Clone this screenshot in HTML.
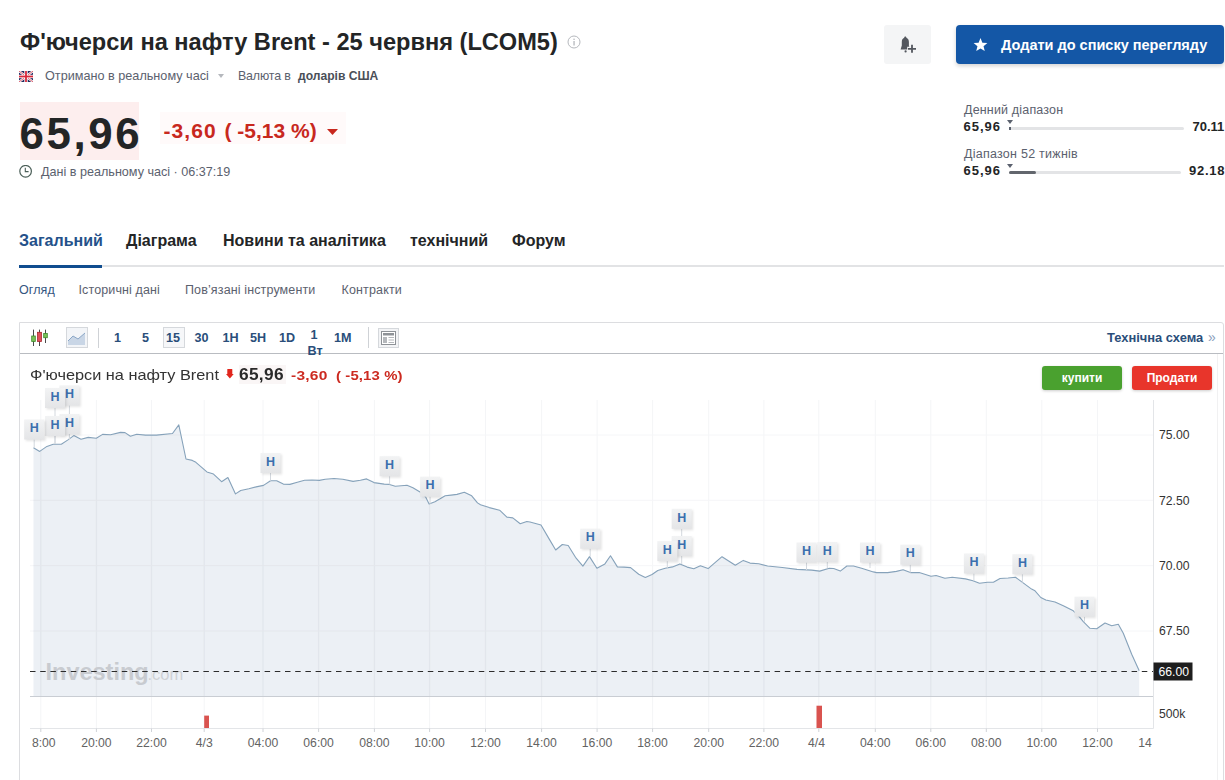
<!DOCTYPE html>
<html><head><meta charset="utf-8">
<style>
*{margin:0;padding:0;box-sizing:border-box}
html,body{width:1225px;height:780px;overflow:hidden;background:#fff;font-family:"Liberation Sans",sans-serif;color:#232526}
.a{position:absolute;white-space:nowrap}
.g{color:#5b616e}
.b{font-weight:bold}
.tb{top:330px;font-size:12.6px;line-height:16px;color:#2a4e7a}
</style></head><body>
<!-- header -->
<div class="a b" id="title" style="left:20px;top:28px;font-size:23.6px;line-height:28px;color:#232526">Ф'ючерси на нафту Brent - 25 червня (LCOM5)</div>
<svg class="a" style="left:567px;top:35px" width="14" height="14" viewBox="0 0 14 14"><circle cx="7" cy="7" r="6" fill="none" stroke="#b5b8bd" stroke-width="1"/><rect x="6.4" y="6" width="1.3" height="4.5" fill="#b5b8bd"/><rect x="6.4" y="3.6" width="1.3" height="1.4" fill="#b5b8bd"/></svg>

<!-- flag -->
<svg class="a" style="left:19px;top:71px" width="14" height="11" viewBox="0 0 14 11"><rect width="14" height="11" rx="1" fill="#232a5e"/><path d="M0 0L14 11M14 0L0 11" stroke="#fff" stroke-width="2.2"/><path d="M0 0L7 5.5M14 11L7 5.5M14 0L7 5.5M0 11L7 5.5" stroke="#d23446" stroke-width="0.8"/><rect x="5.3" y="0" width="3.4" height="11" fill="#fff"/><rect x="0" y="3.8" width="14" height="3.4" fill="#fff"/><rect x="6.1" y="0" width="1.8" height="11" fill="#d8283a"/><rect x="0" y="4.6" width="14" height="1.8" fill="#d8283a"/></svg>
<div class="a g" style="left:45px;top:68px;font-size:12.67px;line-height:16px">Отримано в реальному часі</div>
<svg class="a" style="left:217.5px;top:74.3px" width="6" height="4" viewBox="0 0 6 4"><path d="M0 0H6L3 4Z" fill="#b5b8bd"/></svg>
<div class="a g" style="left:238px;top:68px;font-size:12.4px;line-height:16px;letter-spacing:-0.15px">Валюта в</div>
<div class="a g b" style="left:298px;top:68px;font-size:12.1px;line-height:16px;color:#4a4f58">доларів США</div>

<!-- price -->
<div class="a" style="left:20px;top:102px;width:119px;height:58px;background:#fdeeee"></div>
<div class="a b" style="left:19.5px;top:109px;font-size:43.8px;line-height:50px;letter-spacing:2.6px;color:#232526">65,96</div>
<div class="a" style="left:160px;top:112px;width:186px;height:32px;background:#fffafa"></div>
<div class="a b" style="left:163.5px;top:118px;font-size:21px;line-height:26px;letter-spacing:1.1px;color:#c8281e">-3,60</div>
<div class="a b" style="left:224.5px;top:118px;font-size:21px;line-height:26px;letter-spacing:0px;color:#c8281e">( -5,13 %)</div>
<svg class="a" style="left:326.5px;top:128.5px" width="11" height="6" viewBox="0 0 11 6"><path d="M0 0H11L5.5 6Z" fill="#c8281e"/></svg>

<svg class="a" style="left:19px;top:165px" width="14" height="14" viewBox="0 0 14 14"><circle cx="6.6" cy="6.3" r="5.8" fill="none" stroke="#4b5f58" stroke-width="1.2"/><path d="M6.3 2.8V6.6H9.6" fill="none" stroke="#4b5f58" stroke-width="1.1"/></svg>
<div class="a g" style="left:41px;top:164px;font-size:12.6px;line-height:16px">Дані в реальному часі · 06:37:19</div>

<!-- right buttons -->
<div class="a" style="left:884px;top:25px;width:47px;height:39px;background:#f4f5f6;border-radius:3px"></div>
<svg class="a" style="left:899px;top:35px" width="19" height="19" viewBox="0 0 19 19"><path d="M6.3 1.6C5.6 1.6 5.2 2.2 5.2 2.8C3.6 3.5 2.8 5 2.8 7V10.5L1.6 14.6H11.2L9.9 10.5V7C9.9 5 9 3.5 7.4 2.8C7.4 2.2 7 1.6 6.3 1.6Z" fill="#53575e"/><circle cx="6.6" cy="16.4" r="1.1" fill="#53575e"/><path d="M13 8.6V19M8.2 13.8H18" stroke="#f4f5f6" stroke-width="4.2"/><path d="M13 9.8V17.8M9 13.8H17" stroke="#53575e" stroke-width="1.8"/></svg>
<div class="a" style="left:956px;top:25px;width:268px;height:39px;background:#1457a6;border-radius:4px;box-shadow:0 2px 4px rgba(0,0,0,.18)"></div>
<svg class="a" style="left:973px;top:38px" width="15" height="14" viewBox="0 0 24 23"><path d="M12 0l3.1 7.6 8.2.6-6.3 5.3 2 8-7-4.4-7 4.4 2-8L.7 8.2l8.2-.6z" fill="#fff"/></svg>
<div class="a b" style="left:1001px;top:36px;font-size:14.5px;line-height:18px;color:#fff">Додати до списку перегляду</div>

<!-- ranges -->
<div class="a g" style="left:964px;top:102px;font-size:12.5px;line-height:16px;letter-spacing:0.17px">Денний діапазон</div>
<div class="a b" style="left:963.5px;top:119px;font-size:13px;line-height:16px;letter-spacing:1px">65,96</div>
<div class="a" style="left:1009px;top:127px;width:175px;height:3px;background:#e3e4e6;border-radius:2px"></div>
<svg class="a" style="left:1006.5px;top:120px" width="6" height="4" viewBox="0 0 6 4"><path d="M0 0H6L3 4Z" fill="#5b616e"/></svg><div class="a" style="left:1008.5px;top:126.5px;width:2px;height:3px;background:#5b616e"></div>
<div class="a b" style="left:1192.5px;top:119px;font-size:13px;line-height:16px;letter-spacing:0px">70.11</div>

<div class="a g" style="left:964px;top:146px;font-size:12.5px;line-height:16px;letter-spacing:0.25px">Діапазон 52 тижнів</div>
<div class="a b" style="left:963.5px;top:163px;font-size:13px;line-height:16px;letter-spacing:1px">65,96</div>
<div class="a" style="left:1009px;top:171px;width:172px;height:3px;background:#e3e4e6;border-radius:2px"></div>
<div class="a" style="left:1009px;top:171px;width:27px;height:3px;background:#62666d;border-radius:2px"></div>
<svg class="a" style="left:1006.5px;top:164px" width="6" height="4" viewBox="0 0 6 4"><path d="M0 0H6L3 4Z" fill="#5b616e"/></svg>
<div class="a b" style="left:1189px;top:163px;font-size:13px;line-height:16px;letter-spacing:0.75px">92.18</div>

<!-- tabs -->
<div class="a b" style="left:19px;top:231px;font-size:16px;line-height:20px;color:#24518a">Загальний</div>
<div class="a b" style="left:126px;top:231px;font-size:16px;line-height:20px">Діаграма</div>
<div class="a b" style="left:223px;top:231px;font-size:16px;line-height:20px">Новини та аналітика</div>
<div class="a b" style="left:410px;top:231px;font-size:16px;line-height:20px">технічний</div>
<div class="a b" style="left:512px;top:231px;font-size:16px;line-height:20px">Форум</div>
<div class="a" style="left:19px;top:265px;width:1205px;height:2px;background:#e2e3e5"></div>
<div class="a" style="left:19px;top:265px;width:83px;height:3px;background:#104d8f"></div>

<div class="a" style="left:19px;top:282px;font-size:12.5px;line-height:16px;letter-spacing:0.1px;color:#34557f">Огляд</div>
<div class="a g" style="left:78.5px;top:282px;font-size:12.5px;line-height:16px;letter-spacing:0.12px">Історичні дані</div>
<div class="a g" style="left:185px;top:282px;font-size:12.5px;line-height:16px;letter-spacing:0.13px">Пов’язані інструменти</div>
<div class="a g" style="left:341.5px;top:282px;font-size:12.5px;line-height:16px;letter-spacing:0.15px">Контракти</div>

<!-- CHART -->
<!--CHART_START-->
<div class="a" style="left:19px;top:322px;width:1205px;height:470px;border:1px solid #dcdde0;border-radius:0 3px 0 0"></div><div class="a" style="left:1217px;top:354px;width:1px;height:430px;background:#f1f1f2"></div>
<div class="a" style="left:20px;top:353px;width:1203px;height:1px;background:#b9bcc1"></div>
<!-- toolbar -->
<svg class="a" style="left:31px;top:329px" width="17" height="18" viewBox="0 0 17 18"><path d="M2.5 0.6V17M8.5 0.6V17M14.5 0.6V14" stroke="#4a4a4a" stroke-width="1"/><rect x="0.7" y="7" width="3.6" height="5.5" fill="#7cc35a" stroke="#3d8c2a" stroke-width="0.8"/><rect x="6.5" y="3.3" width="4" height="9.2" fill="#e0505a" stroke="#a82a2e" stroke-width="0.8"/><rect x="12.7" y="4.5" width="3.6" height="4.2" fill="#7cc35a" stroke="#3d8c2a" stroke-width="0.8"/></svg>
<div class="a" style="left:66px;top:327px;width:22px;height:21px;border:1px solid #d5d8dc;background:#f3f5f8"></div>
<svg class="a" style="left:68px;top:331px" width="18" height="14" viewBox="0 0 18 14"><path d="M0 10L5 5L10 8L17 2V14H0Z" fill="#c9d6e6"/><path d="M0 10L5 5L10 8L17 2" fill="none" stroke="#8aa6c6" stroke-width="1"/></svg>
<div class="a" style="left:98px;top:328px;width:1px;height:20px;background:#cfd2d6"></div>
<div class="a" style="left:163px;top:327px;width:22px;height:21px;border:1px solid #d5d8dc;background:#f6f7f9"></div>
<div class="a b tb" style="left:114px">1</div>
<div class="a b tb" style="left:142px">5</div>
<div class="a b tb" style="left:166px">15</div>
<div class="a b tb" style="left:194.5px">30</div>
<div class="a b tb" style="left:222.5px">1H</div>
<div class="a b tb" style="left:250px">5H</div>
<div class="a b tb" style="left:279px">1D</div>
<div class="a b tb" style="left:310.5px;top:327px">1</div>
<div class="a b tb" style="left:307.5px;top:343px">Вт</div>
<div class="a b tb" style="left:334px">1M</div>
<div class="a" style="left:367.5px;top:327px;width:1px;height:21px;background:#cfd2d6"></div>
<div class="a" style="left:378px;top:328px;width:21px;height:20px;border:1px solid #d5d8dc;background:#f3f4f6"></div>
<svg class="a" style="left:381px;top:331px" width="15" height="14" viewBox="0 0 15 14"><rect x="0.5" y="0.5" width="14" height="13" fill="#fff" stroke="#8e9297"/><rect x="2" y="2" width="11" height="2.5" fill="#8e9297"/><rect x="2" y="6" width="4" height="6" fill="#b5b8bc"/><path d="M7.5 6.5H13M7.5 9H13M7.5 11.5H13" stroke="#b5b8bc" stroke-width="1"/></svg>
<div class="a b" style="left:1107px;top:330px;font-size:12.9px;line-height:16px;color:#2a4e7a">Технічна схема</div>
<div class="a" style="left:1208px;top:329px;font-size:14px;line-height:16px;color:#8aa0bd">»</div>
<!-- chart header -->
<div class="a" style="left:29.5px;top:366px;font-size:14.5px;line-height:18px;transform:scaleX(1.125);transform-origin:0 0;color:#333">Ф'ючерси на нафту Brent</div>
<svg class="a" style="left:225.5px;top:369px" width="8" height="10" viewBox="0 0 8 10"><path d="M1.3 0.3Q1.3 0 1.6 0H6Q6.3 0 6.3 0.3V5H7.7L3.9 9.6L0 5H1.3Z" fill="#e1261d"/></svg>
<div class="a" style="left:238.5px;top:365px;width:47px;height:19px;background:#faf6f6"></div><div class="a b" style="left:238.7px;top:365px;font-size:16px;line-height:20px;letter-spacing:0.3px;transform:scaleX(1.08);transform-origin:0 0;color:#2a2a2a">65,96</div>
<div class="a b" style="left:290.5px;top:366.5px;font-size:13.5px;line-height:18px;letter-spacing:0.2px;transform:scaleX(1.15);transform-origin:0 0;color:#cc2a20">-3,60</div>
<div class="a b" style="left:336px;top:366.5px;font-size:13.5px;line-height:18px;letter-spacing:0.1px;transform:scaleX(1.105);transform-origin:0 0;color:#cc2a20">( -5,13 %)</div>
<div class="a" style="left:1042px;top:366px;width:80px;height:24px;background:#4aa12f;border-radius:3px;box-shadow:0 1px 3px rgba(0,0,0,.2)"></div>
<div class="a b" style="left:1042px;top:371px;width:80px;text-align:center;font-size:12px;line-height:14px;color:#fff">купити</div>
<div class="a" style="left:1132px;top:366px;width:80px;height:24px;background:#e8352b;border-radius:3px;box-shadow:0 1px 3px rgba(0,0,0,.2)"></div>
<div class="a b" style="left:1132px;top:371px;width:80px;text-align:center;font-size:12px;line-height:14px;color:#fff">Продати</div>
<svg class="a" style="left:20px;top:353px" width="1205" height="427" viewBox="0 0 1205 427" font-family="Liberation Sans, sans-serif">
<defs><filter id="blur" x="-30%" y="-30%" width="160%" height="160%"><feGaussianBlur stdDeviation="1.3"/></filter><linearGradient id="mg" x1="0" y1="0" x2="0" y2="1"><stop offset="0" stop-color="#f2f3f4"/><stop offset="1" stop-color="#e4e5e7"/></linearGradient></defs>
<line x1="20.799999999999997" y1="47" x2="20.799999999999997" y2="375.5" stroke="#f4f5f7" stroke-width="1"/>
<line x1="76.4" y1="47" x2="76.4" y2="375.5" stroke="#f4f5f7" stroke-width="1"/>
<line x1="131.5" y1="47" x2="131.5" y2="375.5" stroke="#f4f5f7" stroke-width="1"/>
<line x1="184.2" y1="47" x2="184.2" y2="375.5" stroke="#f4f5f7" stroke-width="1"/>
<line x1="243" y1="47" x2="243" y2="375.5" stroke="#f4f5f7" stroke-width="1"/>
<line x1="298.6" y1="47" x2="298.6" y2="375.5" stroke="#f4f5f7" stroke-width="1"/>
<line x1="354.4" y1="47" x2="354.4" y2="375.5" stroke="#f4f5f7" stroke-width="1"/>
<line x1="409.6" y1="47" x2="409.6" y2="375.5" stroke="#f4f5f7" stroke-width="1"/>
<line x1="465.5" y1="47" x2="465.5" y2="375.5" stroke="#f4f5f7" stroke-width="1"/>
<line x1="521.6" y1="47" x2="521.6" y2="375.5" stroke="#f4f5f7" stroke-width="1"/>
<line x1="577.1" y1="47" x2="577.1" y2="375.5" stroke="#f4f5f7" stroke-width="1"/>
<line x1="632.6" y1="47" x2="632.6" y2="375.5" stroke="#f4f5f7" stroke-width="1"/>
<line x1="688.7" y1="47" x2="688.7" y2="375.5" stroke="#f4f5f7" stroke-width="1"/>
<line x1="743.9" y1="47" x2="743.9" y2="375.5" stroke="#f4f5f7" stroke-width="1"/>
<line x1="798.8" y1="47" x2="798.8" y2="375.5" stroke="#f4f5f7" stroke-width="1"/>
<line x1="855.3" y1="47" x2="855.3" y2="375.5" stroke="#f4f5f7" stroke-width="1"/>
<line x1="910.8" y1="47" x2="910.8" y2="375.5" stroke="#f4f5f7" stroke-width="1"/>
<line x1="966.3" y1="47" x2="966.3" y2="375.5" stroke="#f4f5f7" stroke-width="1"/>
<line x1="1021.8" y1="47" x2="1021.8" y2="375.5" stroke="#f4f5f7" stroke-width="1"/>
<line x1="1077.5" y1="47" x2="1077.5" y2="375.5" stroke="#f4f5f7" stroke-width="1"/>
<line x1="10" y1="82" x2="1133.5" y2="82" stroke="#f5f6f8" stroke-width="1"/>
<line x1="10" y1="147.3" x2="1133.5" y2="147.3" stroke="#f5f6f8" stroke-width="1"/>
<line x1="10" y1="212.70000000000005" x2="1133.5" y2="212.70000000000005" stroke="#f5f6f8" stroke-width="1"/>
<line x1="10" y1="278" x2="1133.5" y2="278" stroke="#f5f6f8" stroke-width="1"/>
<path d="M13.5,343.0 L13.5,94.8 L19.7,98.4 L26.9,93.4 L33.2,91.2 L41.3,91.2 L47.6,87.1 L53.8,82.6 L61.0,86.2 L68.2,84.4 L76.3,85.3 L82.6,81.4 L90.6,81.7 L100.5,79.4 L105.0,79.6 L110.4,83.2 L116.7,81.2 L125.6,82.1 L136.4,82.1 L152.5,80.5 L158.8,71.9 L166.0,106.0 L172.3,107.4 L175.9,109.3 L186.9,118.9 L193.5,121.1 L201.6,128.7 L207.9,124.5 L215.5,140.9 L220.7,137.5 L228.8,135.8 L236.1,133.9 L243.5,132.4 L250.5,127.7 L256.7,127.7 L263.3,131.1 L269.9,131.4 L277.3,129.2 L284.6,127.3 L292.0,127.0 L299.3,127.4 L305.2,126.2 L314.0,125.5 L322.8,126.2 L333.1,128.4 L340.4,127.3 L346.6,125.9 L354.0,129.6 L364.2,131.1 L369.4,131.4 L375.3,133.3 L387.0,132.3 L392.9,134.8 L401.7,139.9 L405.4,143.6 L409.1,150.9 L414.9,148.7 L420.1,145.8 L425.2,142.8 L431.1,142.1 L437.0,141.4 L444.3,139.2 L451.7,142.8 L457.5,149.9 L460.5,151.7 L469.3,154.6 L479.6,157.2 L486.9,164.1 L492.8,164.9 L500.2,170.8 L506.8,168.5 L510.0,169.0 L521.0,172.0 L529.1,185.9 L535.7,197.0 L542.3,191.5 L548.2,192.5 L555.5,204.3 L562.9,213.1 L569.5,203.6 L576.9,215.3 L584.9,210.9 L590.5,202.8 L597.4,213.9 L604.0,214.1 L610.6,214.6 L618.7,221.2 L625.3,224.4 L632.0,221.5 L637.8,217.5 L645.2,215.3 L652.5,213.9 L659.9,210.9 L667.2,214.1 L673.8,215.8 L680.4,212.8 L688.1,215.6 L702.0,203.7 L715.3,212.3 L723.3,207.4 L730.0,210.1 L738.8,210.8 L747.6,213.0 L762.3,214.5 L777.0,216.4 L791.7,217.1 L799.7,218.1 L809.3,215.2 L813.7,215.5 L820.3,218.1 L826.9,213.0 L833.5,213.0 L841.6,215.2 L853.4,218.9 L856.6,219.6 L867.6,219.6 L876.4,218.4 L883.1,216.7 L890.4,219.6 L899.2,219.6 L911.0,223.3 L916.1,222.5 L924.9,225.2 L932.3,224.3 L945.5,225.9 L952.9,227.7 L959.5,230.2 L967.5,229.2 L973.4,229.2 L980.0,225.5 L988.1,225.0 L995.5,224.3 L1002.8,229.6 L1011.6,236.1 L1015.0,237.8 L1020.8,244.5 L1025.8,247.0 L1035.0,249.0 L1043.3,252.8 L1053.3,257.8 L1059.2,263.7 L1063.3,268.7 L1070.0,275.3 L1076.7,275.7 L1085.0,270.0 L1091.7,272.8 L1098.3,271.2 L1103.3,280.3 L1111.7,301.2 L1119.2,317.8 L1119.2,343.0 Z" fill="#ecf0f5"/>
<clipPath id="ac"><path d="M13.5,343.0 L13.5,94.8 L19.7,98.4 L26.9,93.4 L33.2,91.2 L41.3,91.2 L47.6,87.1 L53.8,82.6 L61.0,86.2 L68.2,84.4 L76.3,85.3 L82.6,81.4 L90.6,81.7 L100.5,79.4 L105.0,79.6 L110.4,83.2 L116.7,81.2 L125.6,82.1 L136.4,82.1 L152.5,80.5 L158.8,71.9 L166.0,106.0 L172.3,107.4 L175.9,109.3 L186.9,118.9 L193.5,121.1 L201.6,128.7 L207.9,124.5 L215.5,140.9 L220.7,137.5 L228.8,135.8 L236.1,133.9 L243.5,132.4 L250.5,127.7 L256.7,127.7 L263.3,131.1 L269.9,131.4 L277.3,129.2 L284.6,127.3 L292.0,127.0 L299.3,127.4 L305.2,126.2 L314.0,125.5 L322.8,126.2 L333.1,128.4 L340.4,127.3 L346.6,125.9 L354.0,129.6 L364.2,131.1 L369.4,131.4 L375.3,133.3 L387.0,132.3 L392.9,134.8 L401.7,139.9 L405.4,143.6 L409.1,150.9 L414.9,148.7 L420.1,145.8 L425.2,142.8 L431.1,142.1 L437.0,141.4 L444.3,139.2 L451.7,142.8 L457.5,149.9 L460.5,151.7 L469.3,154.6 L479.6,157.2 L486.9,164.1 L492.8,164.9 L500.2,170.8 L506.8,168.5 L510.0,169.0 L521.0,172.0 L529.1,185.9 L535.7,197.0 L542.3,191.5 L548.2,192.5 L555.5,204.3 L562.9,213.1 L569.5,203.6 L576.9,215.3 L584.9,210.9 L590.5,202.8 L597.4,213.9 L604.0,214.1 L610.6,214.6 L618.7,221.2 L625.3,224.4 L632.0,221.5 L637.8,217.5 L645.2,215.3 L652.5,213.9 L659.9,210.9 L667.2,214.1 L673.8,215.8 L680.4,212.8 L688.1,215.6 L702.0,203.7 L715.3,212.3 L723.3,207.4 L730.0,210.1 L738.8,210.8 L747.6,213.0 L762.3,214.5 L777.0,216.4 L791.7,217.1 L799.7,218.1 L809.3,215.2 L813.7,215.5 L820.3,218.1 L826.9,213.0 L833.5,213.0 L841.6,215.2 L853.4,218.9 L856.6,219.6 L867.6,219.6 L876.4,218.4 L883.1,216.7 L890.4,219.6 L899.2,219.6 L911.0,223.3 L916.1,222.5 L924.9,225.2 L932.3,224.3 L945.5,225.9 L952.9,227.7 L959.5,230.2 L967.5,229.2 L973.4,229.2 L980.0,225.5 L988.1,225.0 L995.5,224.3 L1002.8,229.6 L1011.6,236.1 L1015.0,237.8 L1020.8,244.5 L1025.8,247.0 L1035.0,249.0 L1043.3,252.8 L1053.3,257.8 L1059.2,263.7 L1063.3,268.7 L1070.0,275.3 L1076.7,275.7 L1085.0,270.0 L1091.7,272.8 L1098.3,271.2 L1103.3,280.3 L1111.7,301.2 L1119.2,317.8 L1119.2,343.0 Z"/></clipPath><g clip-path="url(#ac)">
<line x1="20.799999999999997" y1="47" x2="20.799999999999997" y2="343" stroke="#e2e6ec" stroke-width="1.3"/>
<line x1="76.4" y1="47" x2="76.4" y2="343" stroke="#e2e6ec" stroke-width="1.3"/>
<line x1="131.5" y1="47" x2="131.5" y2="343" stroke="#e2e6ec" stroke-width="1.3"/>
<line x1="184.2" y1="47" x2="184.2" y2="343" stroke="#e2e6ec" stroke-width="1.3"/>
<line x1="243" y1="47" x2="243" y2="343" stroke="#e2e6ec" stroke-width="1.3"/>
<line x1="298.6" y1="47" x2="298.6" y2="343" stroke="#e2e6ec" stroke-width="1.3"/>
<line x1="354.4" y1="47" x2="354.4" y2="343" stroke="#e2e6ec" stroke-width="1.3"/>
<line x1="409.6" y1="47" x2="409.6" y2="343" stroke="#e2e6ec" stroke-width="1.3"/>
<line x1="465.5" y1="47" x2="465.5" y2="343" stroke="#e2e6ec" stroke-width="1.3"/>
<line x1="521.6" y1="47" x2="521.6" y2="343" stroke="#e2e6ec" stroke-width="1.3"/>
<line x1="577.1" y1="47" x2="577.1" y2="343" stroke="#e2e6ec" stroke-width="1.3"/>
<line x1="632.6" y1="47" x2="632.6" y2="343" stroke="#e2e6ec" stroke-width="1.3"/>
<line x1="688.7" y1="47" x2="688.7" y2="343" stroke="#e2e6ec" stroke-width="1.3"/>
<line x1="743.9" y1="47" x2="743.9" y2="343" stroke="#e2e6ec" stroke-width="1.3"/>
<line x1="798.8" y1="47" x2="798.8" y2="343" stroke="#e2e6ec" stroke-width="1.3"/>
<line x1="855.3" y1="47" x2="855.3" y2="343" stroke="#e2e6ec" stroke-width="1.3"/>
<line x1="910.8" y1="47" x2="910.8" y2="343" stroke="#e2e6ec" stroke-width="1.3"/>
<line x1="966.3" y1="47" x2="966.3" y2="343" stroke="#e2e6ec" stroke-width="1.3"/>
<line x1="1021.8" y1="47" x2="1021.8" y2="343" stroke="#e2e6ec" stroke-width="1.3"/>
<line x1="1077.5" y1="47" x2="1077.5" y2="343" stroke="#e2e6ec" stroke-width="1.3"/>
<line x1="10" y1="82" x2="1133.5" y2="82" stroke="#e4e7ec" stroke-width="1"/>
<line x1="10" y1="147.3" x2="1133.5" y2="147.3" stroke="#e4e7ec" stroke-width="1"/>
<line x1="10" y1="212.70000000000005" x2="1133.5" y2="212.70000000000005" stroke="#e4e7ec" stroke-width="1"/>
<line x1="10" y1="278" x2="1133.5" y2="278" stroke="#e4e7ec" stroke-width="1"/>
</g>
<path d="M13.5,94.8 L19.7,98.4 L26.9,93.4 L33.2,91.2 L41.3,91.2 L47.6,87.1 L53.8,82.6 L61.0,86.2 L68.2,84.4 L76.3,85.3 L82.6,81.4 L90.6,81.7 L100.5,79.4 L105.0,79.6 L110.4,83.2 L116.7,81.2 L125.6,82.1 L136.4,82.1 L152.5,80.5 L158.8,71.9 L166.0,106.0 L172.3,107.4 L175.9,109.3 L186.9,118.9 L193.5,121.1 L201.6,128.7 L207.9,124.5 L215.5,140.9 L220.7,137.5 L228.8,135.8 L236.1,133.9 L243.5,132.4 L250.5,127.7 L256.7,127.7 L263.3,131.1 L269.9,131.4 L277.3,129.2 L284.6,127.3 L292.0,127.0 L299.3,127.4 L305.2,126.2 L314.0,125.5 L322.8,126.2 L333.1,128.4 L340.4,127.3 L346.6,125.9 L354.0,129.6 L364.2,131.1 L369.4,131.4 L375.3,133.3 L387.0,132.3 L392.9,134.8 L401.7,139.9 L405.4,143.6 L409.1,150.9 L414.9,148.7 L420.1,145.8 L425.2,142.8 L431.1,142.1 L437.0,141.4 L444.3,139.2 L451.7,142.8 L457.5,149.9 L460.5,151.7 L469.3,154.6 L479.6,157.2 L486.9,164.1 L492.8,164.9 L500.2,170.8 L506.8,168.5 L510.0,169.0 L521.0,172.0 L529.1,185.9 L535.7,197.0 L542.3,191.5 L548.2,192.5 L555.5,204.3 L562.9,213.1 L569.5,203.6 L576.9,215.3 L584.9,210.9 L590.5,202.8 L597.4,213.9 L604.0,214.1 L610.6,214.6 L618.7,221.2 L625.3,224.4 L632.0,221.5 L637.8,217.5 L645.2,215.3 L652.5,213.9 L659.9,210.9 L667.2,214.1 L673.8,215.8 L680.4,212.8 L688.1,215.6 L702.0,203.7 L715.3,212.3 L723.3,207.4 L730.0,210.1 L738.8,210.8 L747.6,213.0 L762.3,214.5 L777.0,216.4 L791.7,217.1 L799.7,218.1 L809.3,215.2 L813.7,215.5 L820.3,218.1 L826.9,213.0 L833.5,213.0 L841.6,215.2 L853.4,218.9 L856.6,219.6 L867.6,219.6 L876.4,218.4 L883.1,216.7 L890.4,219.6 L899.2,219.6 L911.0,223.3 L916.1,222.5 L924.9,225.2 L932.3,224.3 L945.5,225.9 L952.9,227.7 L959.5,230.2 L967.5,229.2 L973.4,229.2 L980.0,225.5 L988.1,225.0 L995.5,224.3 L1002.8,229.6 L1011.6,236.1 L1015.0,237.8 L1020.8,244.5 L1025.8,247.0 L1035.0,249.0 L1043.3,252.8 L1053.3,257.8 L1059.2,263.7 L1063.3,268.7 L1070.0,275.3 L1076.7,275.7 L1085.0,270.0 L1091.7,272.8 L1098.3,271.2 L1103.3,280.3 L1111.7,301.2 L1119.2,317.8" fill="none" stroke="#86a2ba" stroke-width="1.1" stroke-linejoin="round"/>
<text x="25.5" y="326.5" font-size="23.5" font-weight="bold" fill="#c8cbd0" letter-spacing="0">Investing</text>
<text x="127.5" y="326.5" font-size="16.5" fill="#cfd2d6">.com</text>
<line x1="10" y1="318.5" x2="1133.5" y2="318.5" stroke="#2c2c2c" stroke-width="1" stroke-dasharray="5.5,4.7"/>
<line x1="10" y1="343.5" x2="1133.5" y2="343.5" stroke="#c9cdd3" stroke-width="1"/>
<line x1="10" y1="375.5" x2="1133.5" y2="375.5" stroke="#e3e5e8" stroke-width="1"/>
<line x1="1133.5" y1="47" x2="1133.5" y2="375.5" stroke="#e3e5e8" stroke-width="1"/>
<rect x="184.2" y="362.6" width="4.8" height="12.399999999999977" fill="#d9534f"/>
<rect x="796.5" y="352.70000000000005" width="5.5" height="22.299999999999955" fill="#d9534f"/>
<line x1="20.799999999999997" y1="375.5" x2="20.799999999999997" y2="379" stroke="#d0d3d8" stroke-width="1"/>
<line x1="76.4" y1="375.5" x2="76.4" y2="379" stroke="#d0d3d8" stroke-width="1"/>
<line x1="131.5" y1="375.5" x2="131.5" y2="379" stroke="#d0d3d8" stroke-width="1"/>
<line x1="184.2" y1="375.5" x2="184.2" y2="379" stroke="#d0d3d8" stroke-width="1"/>
<line x1="243" y1="375.5" x2="243" y2="379" stroke="#d0d3d8" stroke-width="1"/>
<line x1="298.6" y1="375.5" x2="298.6" y2="379" stroke="#d0d3d8" stroke-width="1"/>
<line x1="354.4" y1="375.5" x2="354.4" y2="379" stroke="#d0d3d8" stroke-width="1"/>
<line x1="409.6" y1="375.5" x2="409.6" y2="379" stroke="#d0d3d8" stroke-width="1"/>
<line x1="465.5" y1="375.5" x2="465.5" y2="379" stroke="#d0d3d8" stroke-width="1"/>
<line x1="521.6" y1="375.5" x2="521.6" y2="379" stroke="#d0d3d8" stroke-width="1"/>
<line x1="577.1" y1="375.5" x2="577.1" y2="379" stroke="#d0d3d8" stroke-width="1"/>
<line x1="632.6" y1="375.5" x2="632.6" y2="379" stroke="#d0d3d8" stroke-width="1"/>
<line x1="688.7" y1="375.5" x2="688.7" y2="379" stroke="#d0d3d8" stroke-width="1"/>
<line x1="743.9" y1="375.5" x2="743.9" y2="379" stroke="#d0d3d8" stroke-width="1"/>
<line x1="798.8" y1="375.5" x2="798.8" y2="379" stroke="#d0d3d8" stroke-width="1"/>
<line x1="855.3" y1="375.5" x2="855.3" y2="379" stroke="#d0d3d8" stroke-width="1"/>
<line x1="910.8" y1="375.5" x2="910.8" y2="379" stroke="#d0d3d8" stroke-width="1"/>
<line x1="966.3" y1="375.5" x2="966.3" y2="379" stroke="#d0d3d8" stroke-width="1"/>
<line x1="1021.8" y1="375.5" x2="1021.8" y2="379" stroke="#d0d3d8" stroke-width="1"/>
<line x1="1077.5" y1="375.5" x2="1077.5" y2="379" stroke="#d0d3d8" stroke-width="1"/>
<text x="23.799999999999997" y="393.5" font-size="12.2" fill="#636363" text-anchor="middle">8:00</text>
<text x="76.4" y="393.5" font-size="12.2" fill="#636363" text-anchor="middle">20:00</text>
<text x="131.5" y="393.5" font-size="12.2" fill="#636363" text-anchor="middle">22:00</text>
<text x="184.2" y="393.5" font-size="12.2" fill="#636363" text-anchor="middle">4/3</text>
<text x="243" y="393.5" font-size="12.2" fill="#636363" text-anchor="middle">04:00</text>
<text x="298.6" y="393.5" font-size="12.2" fill="#636363" text-anchor="middle">06:00</text>
<text x="354.4" y="393.5" font-size="12.2" fill="#636363" text-anchor="middle">08:00</text>
<text x="409.6" y="393.5" font-size="12.2" fill="#636363" text-anchor="middle">10:00</text>
<text x="465.5" y="393.5" font-size="12.2" fill="#636363" text-anchor="middle">12:00</text>
<text x="521.6" y="393.5" font-size="12.2" fill="#636363" text-anchor="middle">14:00</text>
<text x="577.1" y="393.5" font-size="12.2" fill="#636363" text-anchor="middle">16:00</text>
<text x="632.6" y="393.5" font-size="12.2" fill="#636363" text-anchor="middle">18:00</text>
<text x="688.7" y="393.5" font-size="12.2" fill="#636363" text-anchor="middle">20:00</text>
<text x="743.9" y="393.5" font-size="12.2" fill="#636363" text-anchor="middle">22:00</text>
<text x="796.5" y="393.5" font-size="12.2" fill="#636363" text-anchor="middle">4/4</text>
<text x="855.3" y="393.5" font-size="12.2" fill="#636363" text-anchor="middle">04:00</text>
<text x="910.8" y="393.5" font-size="12.2" fill="#636363" text-anchor="middle">06:00</text>
<text x="966.3" y="393.5" font-size="12.2" fill="#636363" text-anchor="middle">08:00</text>
<text x="1021.8" y="393.5" font-size="12.2" fill="#636363" text-anchor="middle">10:00</text>
<text x="1077.5" y="393.5" font-size="12.2" fill="#636363" text-anchor="middle">12:00</text>
<text x="1125" y="393.5" font-size="12.2" fill="#636363" text-anchor="middle">14</text>
<text x="1139" y="86.30000000000001" font-size="12.2" fill="#333">75.00</text>
<text x="1139" y="151.60000000000002" font-size="12.2" fill="#333">72.50</text>
<text x="1139" y="217.0" font-size="12.2" fill="#333">70.00</text>
<text x="1139" y="282.29999999999995" font-size="12.2" fill="#333">67.50</text>
<text x="1139" y="364.5" font-size="12.2" fill="#333">500k</text>
<rect x="1133.5" y="309.5" width="39" height="18" fill="#1e1e1e"/>
<text x="1138.5" y="323" font-size="12.2" fill="#fff">66.00</text>
<line x1="49.400000000000006" y1="52.39999999999998" x2="49.400000000000006" y2="87" stroke="#d3d8de" stroke-width="1"/>
<line x1="35" y1="55" x2="35" y2="91" stroke="#d3d8de" stroke-width="1"/>
<line x1="49.400000000000006" y1="81" x2="49.400000000000006" y2="87" stroke="#d3d8de" stroke-width="1"/>
<line x1="35" y1="83" x2="35" y2="91" stroke="#d3d8de" stroke-width="1"/>
<line x1="14.200000000000003" y1="86.5" x2="14.200000000000003" y2="95" stroke="#d3d8de" stroke-width="1"/>
<line x1="250.5" y1="120" x2="250.5" y2="127.69999999999999" stroke="#d3d8de" stroke-width="1"/>
<line x1="369.6" y1="123.19999999999999" x2="369.6" y2="131.39999999999998" stroke="#d3d8de" stroke-width="1"/>
<line x1="410.1" y1="143.7" x2="410.1" y2="150.89999999999998" stroke="#d3d8de" stroke-width="1"/>
<line x1="570.2" y1="195.70000000000005" x2="570.2" y2="203.60000000000002" stroke="#d3d8de" stroke-width="1"/>
<line x1="661.7" y1="175.79999999999995" x2="661.7" y2="183" stroke="#d3d8de" stroke-width="1"/>
<line x1="661.7" y1="203" x2="661.7" y2="211" stroke="#d3d8de" stroke-width="1"/>
<line x1="647.3" y1="208.10000000000002" x2="647.3" y2="215.29999999999995" stroke="#d3d8de" stroke-width="1"/>
<line x1="786.5" y1="209.5" x2="786.5" y2="217" stroke="#d3d8de" stroke-width="1"/>
<line x1="807.3" y1="209" x2="807.3" y2="215.20000000000005" stroke="#d3d8de" stroke-width="1"/>
<line x1="850" y1="209.5" x2="850" y2="215" stroke="#d3d8de" stroke-width="1"/>
<line x1="890.3" y1="211.70000000000005" x2="890.3" y2="219.60000000000002" stroke="#d3d8de" stroke-width="1"/>
<line x1="953.9" y1="220.5" x2="953.9" y2="227.70000000000005" stroke="#d3d8de" stroke-width="1"/>
<line x1="1002.4" y1="221.20000000000005" x2="1002.4" y2="229.60000000000002" stroke="#d3d8de" stroke-width="1"/>
<line x1="1064.5" y1="263.70000000000005" x2="1064.5" y2="268.70000000000005" stroke="#d3d8de" stroke-width="1"/>
<rect x="40.900000000000006" y="33.89999999999998" width="20" height="20" fill="#000" fill-opacity="0.10" filter="url(#blur)"/>
<rect x="39.400000000000006" y="32.39999999999998" width="20" height="20" fill="url(#mg)" />
<text x="49.400000000000006" y="45.099999999999966" font-size="12.5" font-weight="bold" fill="#3b6fae" text-anchor="middle">H</text>
<rect x="26.5" y="36.5" width="20" height="20" fill="#000" fill-opacity="0.10" filter="url(#blur)"/>
<rect x="25" y="35" width="20" height="20" fill="url(#mg)" />
<text x="35" y="47.69999999999999" font-size="12.5" font-weight="bold" fill="#3b6fae" text-anchor="middle">H</text>
<rect x="40.900000000000006" y="62.5" width="20" height="20" fill="#000" fill-opacity="0.10" filter="url(#blur)"/>
<rect x="39.400000000000006" y="61" width="20" height="20" fill="url(#mg)" />
<text x="49.400000000000006" y="73.69999999999999" font-size="12.5" font-weight="bold" fill="#3b6fae" text-anchor="middle">H</text>
<rect x="26.5" y="64.5" width="20" height="20" fill="#000" fill-opacity="0.10" filter="url(#blur)"/>
<rect x="25" y="63" width="20" height="20" fill="url(#mg)" />
<text x="35" y="75.69999999999999" font-size="12.5" font-weight="bold" fill="#3b6fae" text-anchor="middle">H</text>
<rect x="5.700000000000003" y="68.0" width="20" height="20" fill="#000" fill-opacity="0.10" filter="url(#blur)"/>
<rect x="4.200000000000003" y="66.5" width="20" height="20" fill="url(#mg)" />
<text x="14.200000000000003" y="79.19999999999999" font-size="12.5" font-weight="bold" fill="#3b6fae" text-anchor="middle">H</text>
<rect x="242.0" y="101.5" width="20" height="20" fill="#000" fill-opacity="0.10" filter="url(#blur)"/>
<rect x="240.5" y="100" width="20" height="20" fill="url(#mg)" />
<text x="250.5" y="112.69999999999999" font-size="12.5" font-weight="bold" fill="#3b6fae" text-anchor="middle">H</text>
<rect x="361.1" y="104.69999999999999" width="20" height="20" fill="#000" fill-opacity="0.10" filter="url(#blur)"/>
<rect x="359.6" y="103.19999999999999" width="20" height="20" fill="url(#mg)" />
<text x="369.6" y="115.89999999999998" font-size="12.5" font-weight="bold" fill="#3b6fae" text-anchor="middle">H</text>
<rect x="401.6" y="125.19999999999999" width="20" height="20" fill="#000" fill-opacity="0.10" filter="url(#blur)"/>
<rect x="400.1" y="123.69999999999999" width="20" height="20" fill="url(#mg)" />
<text x="410.1" y="136.39999999999998" font-size="12.5" font-weight="bold" fill="#3b6fae" text-anchor="middle">H</text>
<rect x="561.7" y="177.20000000000005" width="20" height="20" fill="#000" fill-opacity="0.10" filter="url(#blur)"/>
<rect x="560.2" y="175.70000000000005" width="20" height="20" fill="url(#mg)" />
<text x="570.2" y="188.4000000000001" font-size="12.5" font-weight="bold" fill="#3b6fae" text-anchor="middle">H</text>
<rect x="653.2" y="157.3" width="20" height="20" fill="#000" fill-opacity="0.10" filter="url(#blur)"/>
<rect x="651.7" y="155.8" width="20" height="20" fill="url(#mg)" />
<text x="661.7" y="168.5" font-size="12.5" font-weight="bold" fill="#3b6fae" text-anchor="middle">H</text>
<rect x="653.2" y="184.5" width="20" height="20" fill="#000" fill-opacity="0.10" filter="url(#blur)"/>
<rect x="651.7" y="183" width="20" height="20" fill="url(#mg)" />
<text x="661.7" y="195.70000000000005" font-size="12.5" font-weight="bold" fill="#3b6fae" text-anchor="middle">H</text>
<rect x="638.8" y="189.60000000000002" width="20" height="20" fill="#000" fill-opacity="0.10" filter="url(#blur)"/>
<rect x="637.3" y="188.10000000000002" width="20" height="20" fill="url(#mg)" />
<text x="647.3" y="200.80000000000007" font-size="12.5" font-weight="bold" fill="#3b6fae" text-anchor="middle">H</text>
<rect x="778.0" y="191.0" width="20" height="20" fill="#000" fill-opacity="0.10" filter="url(#blur)"/>
<rect x="776.5" y="189.5" width="20" height="20" fill="url(#mg)" />
<text x="786.5" y="202.20000000000005" font-size="12.5" font-weight="bold" fill="#3b6fae" text-anchor="middle">H</text>
<rect x="798.8" y="190.5" width="20" height="20" fill="#000" fill-opacity="0.10" filter="url(#blur)"/>
<rect x="797.3" y="189" width="20" height="20" fill="url(#mg)" />
<text x="807.3" y="201.70000000000005" font-size="12.5" font-weight="bold" fill="#3b6fae" text-anchor="middle">H</text>
<rect x="841.5" y="191.0" width="20" height="20" fill="#000" fill-opacity="0.10" filter="url(#blur)"/>
<rect x="840" y="189.5" width="20" height="20" fill="url(#mg)" />
<text x="850" y="202.20000000000005" font-size="12.5" font-weight="bold" fill="#3b6fae" text-anchor="middle">H</text>
<rect x="881.8" y="193.20000000000005" width="20" height="20" fill="#000" fill-opacity="0.10" filter="url(#blur)"/>
<rect x="880.3" y="191.70000000000005" width="20" height="20" fill="url(#mg)" />
<text x="890.3" y="204.4000000000001" font-size="12.5" font-weight="bold" fill="#3b6fae" text-anchor="middle">H</text>
<rect x="945.4" y="202.0" width="20" height="20" fill="#000" fill-opacity="0.10" filter="url(#blur)"/>
<rect x="943.9" y="200.5" width="20" height="20" fill="url(#mg)" />
<text x="953.9" y="213.20000000000005" font-size="12.5" font-weight="bold" fill="#3b6fae" text-anchor="middle">H</text>
<rect x="993.9" y="202.70000000000005" width="20" height="20" fill="#000" fill-opacity="0.10" filter="url(#blur)"/>
<rect x="992.4" y="201.20000000000005" width="20" height="20" fill="url(#mg)" />
<text x="1002.4" y="213.9000000000001" font-size="12.5" font-weight="bold" fill="#3b6fae" text-anchor="middle">H</text>
<rect x="1056.0" y="245.20000000000005" width="20" height="20" fill="#000" fill-opacity="0.10" filter="url(#blur)"/>
<rect x="1054.5" y="243.70000000000005" width="20" height="20" fill="url(#mg)" />
<text x="1064.5" y="256.4000000000001" font-size="12.5" font-weight="bold" fill="#3b6fae" text-anchor="middle">H</text>
</svg>
<!--CHART_END-->
</body></html>
